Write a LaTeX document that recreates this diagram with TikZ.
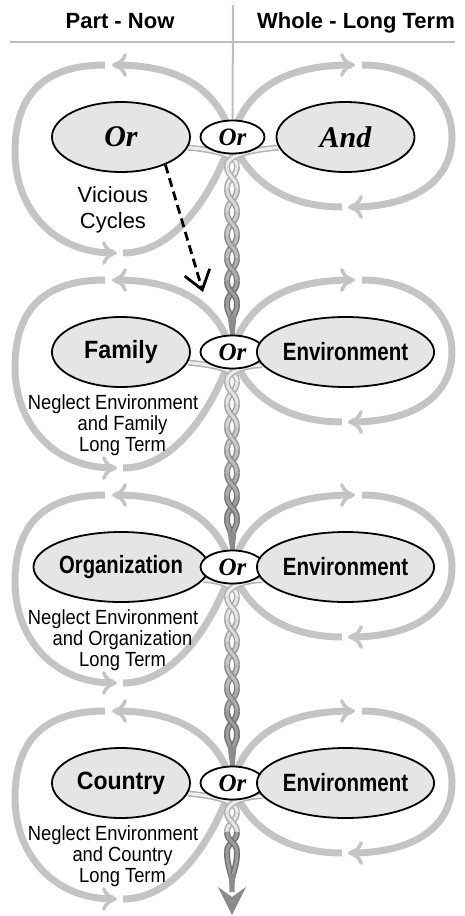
\documentclass[tikz,border=0pt]{standalone}
\usepackage{graphicx}
\usepackage{fontspec}
\setmainfont{Liberation Serif}
\setsansfont{Liberation Sans}
\usetikzlibrary{arrows.meta,shapes.geometric}
\pgfdeclarelayer{loops}
\pgfdeclarelayer{ropes}
\pgfsetlayers{loops,ropes,main}
\definecolor{bandc}{gray}{0.77}
\definecolor{ellc}{gray}{0.9}
\definecolor{rulec}{gray}{0.74}
\definecolor{stemc}{gray}{0.55}
\tikzset{
  band/.style={line width=7pt, draw=bandc, -{Computer Modern Rightarrow[length=15pt,width=24pt,line width=3.5pt]}},
  bigell/.style={ellipse, draw=black, line width=1.8pt, fill=ellc, minimum width=138pt, minimum height=70pt, inner sep=0pt},
  smallell/.style={ellipse, draw=black, line width=1.8pt, fill=white, minimum width=64pt, minimum height=33pt, inner sep=0pt},
  serifit/.style={font=\fontsize{30}{30}\bfseries\itshape\selectfont},
  smallit/.style={font=\fontsize{25}{25}\bfseries\itshape\selectfont},
  sflab/.style={font=\sffamily\bfseries\fontsize{25}{25}\selectfont},
  note/.style={font=\sffamily\fontsize{20.5}{21}\selectfont, inner sep=0pt},
  vcstyle/.style={font=\sffamily\fontsize{22}{26}\selectfont, align=center, inner sep=0pt},
  head/.style={font=\sffamily\bfseries\fontsize{22}{22}\selectfont, anchor=base, inner sep=0pt},
  rulel/.style={draw=rulec, line width=2pt},
  tube/.style={line width=1.5pt, double distance=3pt},
  dasharrow/.style={line width=2.8pt, dash pattern=on 9pt off 5pt, -{Straight Barb[length=18pt,width=26pt,line width=2.8pt]}},
}
% figure-eight loops around a section centred at y=#1
\newcommand\figeight[1]{%
  \begin{scope}[shift={(232,#1)}]
    \draw[band] (110,70) .. controls (50,70) and (12,40) .. (0,0) .. controls (-15,-50) and (-55,-72) .. (-120,-72);
    \draw[band] (-127,-72) .. controls (-195,-72) and (-217,-35) .. (-217,15) .. controls (-217,70) and (-180,116) .. (-115,116);
    \draw[band] (-109,116) .. controls (-50,116) and (-12,40) .. (0,0) .. controls (15,-50) and (55,-72) .. (123,-72);
    \draw[band] (130,-72) .. controls (185,-72) and (220,-40) .. (220,0) .. controls (220,45) and (180,70) .. (116,70);
  \end{scope}}
% side tubes from ellipses into the rope
\newcommand\sidetubes[3]{% #1 left node, #2 right node, #3 centre y
  \draw[tube, draw=black!30, double=black!7] (#1.-9) .. controls (215,#3+13) and (237,#3+18) .. (237,#3+29);
  \draw[tube, draw=black!30, double=black!7] (#2.189) .. controls (250,#3+13) and (227,#3+18) .. (227,#3+29);}
% twisted rope: #1 centre y, #2 half twists, #3 half-twist length
\newcommand\ropebody[3]{%
  \foreach \j in {1,...,#2} {
    \pgfmathsetmacro\ya{#1+29+#3*(\j-1)}
    \pgfmathsetmacro\yb{\ya+#3}
    \pgfmathsetmacro\ym{\ya+#3/2}
    \pgfmathtruncatemacro\fl{10+28*(\j-1)/max(#2-1,1)}
    \pgfmathtruncatemacro\ol{32+22*(\j-1)/max(#2-1,1)}
    \draw[tube, draw=black!\ol, double=black!\fl] (237,\ya) .. controls (237,\ym) and (227,\ym) .. (227,\yb);
    \draw[tube, draw=black!\ol, double=black!\fl] (227,\ya) .. controls (227,\ym) and (237,\ym) .. (237,\yb);
  }}
\newcommand\teardrop[2]{% #1 = y where strands are apart, #2 = length
  \draw[tube, draw=black!55, double=black!38] (227,#1) .. controls (227,#1+#2/2) and (231,#1+#2*0.7) .. (232,#1+#2);
  \draw[tube, draw=black!55, double=black!38] (237,#1) .. controls (237,#1+#2/2) and (233,#1+#2*0.7) .. (232,#1+#2);}
\begin{document}
\begin{tikzpicture}[x=1pt,y=-1pt]
\useasboundingbox (0,0) rectangle (464,916);
% header
\node[head] (h1) at (120,28) {Part - Now};
\node[head] (h2) at (356,28) {Whole - Long Term};
\coordinate (hl) at (10,41.5);
\coordinate (hr) at (455,41.5);
\coordinate (vt) at (233,5);
% section 1
\node[bigell,serifit] (L1) at (121,137) {Or};
\node[smallell,smallit] (O1) at (232.5,137) {Or};
\node[bigell,serifit] (R1) at (345.5,137) {And};
% section 2
\node[bigell,sflab] (L2) at (121,352) {\scalebox{0.93}[1]{Family}};
\node[smallell,smallit] (O2) at (232.5,352) {Or};
\node[bigell,sflab] (R2) at (345.5,352) {\scalebox{0.82}[1]{Environment}};
% section 3
\node[bigell,sflab] (L3) at (121,567) {\scalebox{0.81}[1]{Organization}};
\node[smallell,smallit] (O3) at (232.5,567) {Or};
\node[bigell,sflab] (R3) at (345.5,567) {\scalebox{0.82}[1]{Environment}};
% section 4
\node[bigell,sflab] (L4) at (121,783) {\scalebox{0.92}[1]{Country}};
\node[smallell,smallit] (O4) at (232.5,783) {Or};
\node[bigell,sflab] (R4) at (345.5,783) {\scalebox{0.82}[1]{Environment}};
% notes
\node[vcstyle] (vc) at (113,209.5) {Vicious\\Cycles};
\node[note] (n2) at (122.5,426) {\scalebox{0.895}[1]{\begin{tabular}{@{}c@{}}\hspace*{-21pt}Neglect Environment\\and Family\\Long Term\end{tabular}}};
\node[note] (n3) at (122.5,641) {\scalebox{0.895}[1]{\begin{tabular}{@{}c@{}}\hspace*{-21pt}Neglect Environment\\and Organization\\Long Term\end{tabular}}};
\node[note] (n4) at (122.5,857) {\scalebox{0.895}[1]{\begin{tabular}{@{}c@{}}\hspace*{-21pt}Neglect Environment\\and Country\\Long Term\end{tabular}}};
% dashed arrow
\coordinate (dv) at (203,292);
\draw[dasharrow] (L1.-32) -- (dv);
\begin{pgfonlayer}{loops}
  \figeight{137}
  \figeight{352}
  \figeight{567}
  \figeight{783}
\end{pgfonlayer}
\begin{pgfonlayer}{ropes}
  \draw[rulel] (hl) -- (hr);
  \draw[rulel] (vt) -- (O1.north);
  \sidetubes{L1}{R1}{137}
  \sidetubes{L2}{R2}{352}
  \sidetubes{L3}{R3}{567}
  \sidetubes{L4}{R4}{783}
  \ropebody{137}{6}{23}
  \teardrop{304}{16}
  \fill[stemc] (227.5,316) -- (236.5,316) -- (234.5,337) -- (230.5,337) -- cycle;
  \ropebody{352}{6}{23}
  \teardrop{519}{16}
  \fill[stemc] (227.5,531) -- (236.5,531) -- (234.5,552) -- (230.5,552) -- cycle;
  \ropebody{567}{6}{23}
  \teardrop{734}{16}
  \fill[stemc] (227.5,746) -- (236.5,746) -- (234.5,768) -- (230.5,768) -- cycle;
  \ropebody{783}{2}{20}
  \teardrop{852}{28}
  \fill[stemc] (229,874) -- (235,874) -- (234.5,892) -- (229.5,892) -- cycle;
  \fill[stemc] (232,915) -- (218,887) -- (232,897) -- (246,887) -- cycle;
\end{pgfonlayer}
\end{tikzpicture}
\end{document}
